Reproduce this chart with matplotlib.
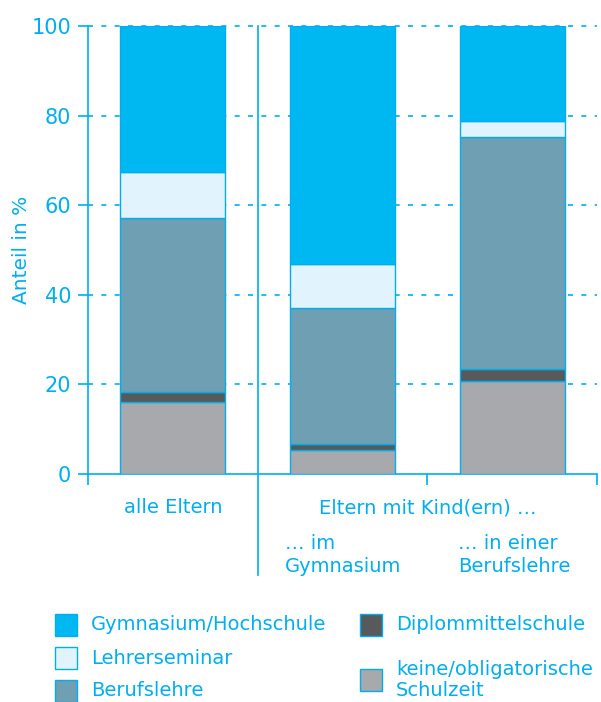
import matplotlib
matplotlib.use('Agg')
import matplotlib.pyplot as plt
from matplotlib.patches import Rectangle

# data (shares in %), stacked bottom to top
groups = ['alle Eltern', '… im\nGymnasium', '… in einer\nBerufslehre']
categories = ['keine/obligatorische\nSchulzeit', 'Diplommittelschule', 'Berufslehre',
              'Lehrerseminar', 'Gymnasium/Hochschule']
keine = [16.1, 5.4, 20.8]
diplom = [2.3, 1.3, 2.6]
berufslehre = [38.8, 30.4, 51.8]
lehrerseminar = [10.1, 9.8, 3.6]
gymnasium = [32.7, 53.1, 21.2]
yticks = [0, 20, 40, 60, 80, 100]

series = [keine, diplom, berufslehre, lehrerseminar, gymnasium]
colors = ['#a7a9ac', '#58595b', '#6f9fb2', '#e1f3fc', '#00b8f1']
cyan = '#00aeef'

plt.rcParams['font.family'] = ['DejaVu Sans']

fig = plt.figure(figsize=(6.01, 7.02), dpi=100)
ax = fig.add_axes([88 / 601, 228 / 702, 509 / 601, 448 / 702])

x = list(range(len(groups)))
bottom = [0, 0, 0]
for vals, col in zip(series, colors):
    ax.bar(x, vals, bottom=bottom, width=0.62, color=col, edgecolor=cyan,
           linewidth=1.0, zorder=3)
    bottom = [b + v for b, v in zip(bottom, vals)]

ax.set_xlim(-0.5, 2.5)
ax.set_ylim(0, 100)
ax.set_yticks(yticks)
for t in yticks[1:]:
    ax.axhline(t, color=cyan, lw=1.2, dashes=(3, 5), zorder=1, clip_on=False)

for s in ['top', 'right']:
    ax.spines[s].set_visible(False)
for s in ['left', 'bottom']:
    ax.spines[s].set_color(cyan)
    ax.spines[s].set_linewidth(1.2)

ax.set_xticks([-0.5, 1.5, 2.5])
ax.set_xticklabels([])
ax.tick_params(axis='x', direction='out', length=8, width=1.2, color=cyan)
ax.tick_params(axis='y', direction='out', length=7, width=1.2, color=cyan,
               labelcolor=cyan, labelsize=15, pad=5)

# separator between "alle Eltern" and the two sub-groups
ax.axvline(0.5, ymin=-0.225, ymax=1, color=cyan, lw=1.2, clip_on=False, zorder=4)

ax.set_ylabel('Anteil in %', color=cyan, fontsize=14.5)
ax.yaxis.set_label_coords(-57 / 509, 0.5)

# group labels
tr = ax.get_xaxis_transform()
ax.text(0, -0.075, groups[0], transform=tr, ha='center', va='center',
        color=cyan, fontsize=14)
ax.text(1.5, -0.075, 'Eltern mit Kind(ern) …', transform=tr, ha='center',
        va='center', color=cyan, fontsize=14)
ax.text(1 - 0.34, -0.18, groups[1], transform=tr, ha='left', va='center',
        color=cyan, fontsize=14, linespacing=1.25)
ax.text(2 - 0.32, -0.18, groups[2], transform=tr, ha='left', va='center',
        color=cyan, fontsize=14, linespacing=1.25)

# legend
legend_order = [4, 3, 2, 1, 0]
legend_pos = [(55, 625), (55, 658), (55, 691), (360, 625), (360, 680)]
for idx, (lx, ly) in zip(legend_order, legend_pos):
    fig.add_artist(Rectangle((lx / 601, 1 - (ly + 11) / 702), 22 / 601, 22 / 702,
                             transform=fig.transFigure, facecolor=colors[idx],
                             edgecolor=cyan, lw=1.0))
    fig.text((lx + 36) / 601, 1 - ly / 702, categories[idx], ha='left',
             va='center', color=cyan, fontsize=14, linespacing=1.1)

fig.savefig('out.png', dpi=100)
